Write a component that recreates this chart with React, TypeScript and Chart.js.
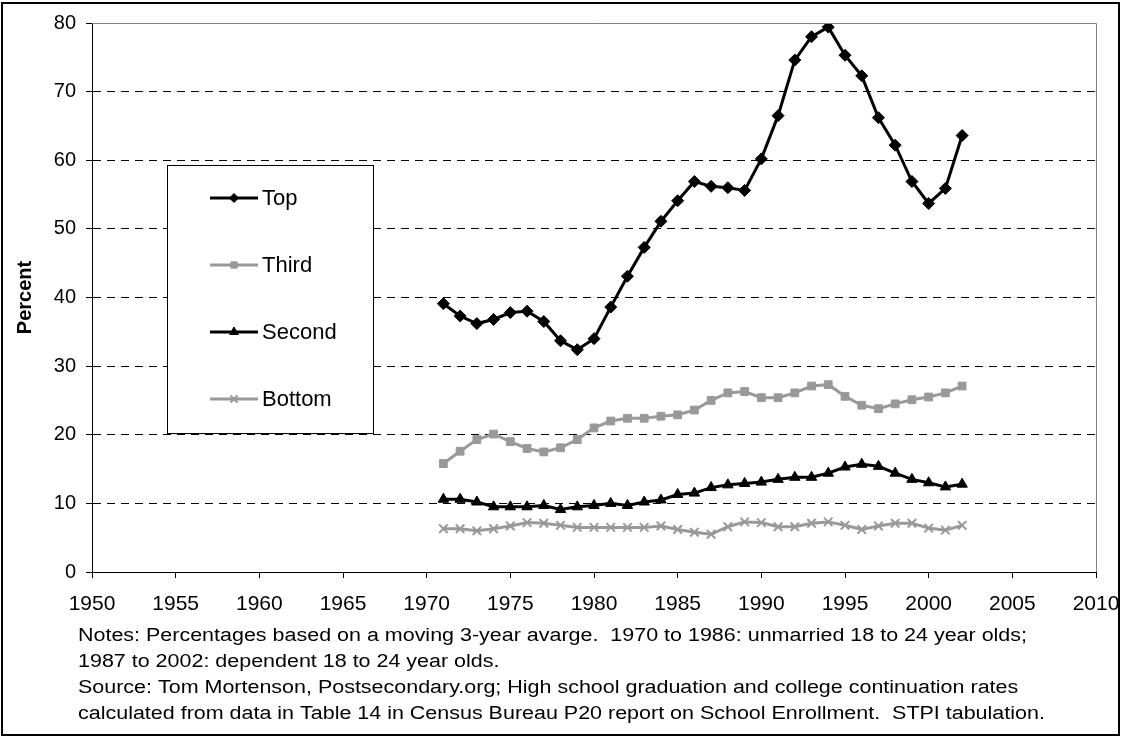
import React, { useEffect, useRef } from "react";
import { Chart, registerables } from "chart.js";
import { drawPoint } from "chart.js/helpers";

Chart.register(...registerables);

const years = [1971, 1972, 1973, 1974, 1975, 1976, 1977, 1978, 1979, 1980, 1981, 1982, 1983, 1984, 1985, 1986, 1987, 1988, 1989, 1990, 1991, 1992, 1993, 1994, 1995, 1996, 1997, 1998, 1999, 2000, 2001, 2002];
const topValues = [39.1, 37.3, 36.2, 36.8, 37.8, 38.0, 36.5, 33.7, 32.4, 34.0, 38.6, 43.1, 47.3, 51.1, 54.1, 56.9, 56.2, 56.0, 55.6, 60.2, 66.5, 74.6, 78.0, 79.4, 75.3, 72.3, 66.2, 62.2, 56.9, 53.7, 55.9, 63.6];
const thirdValues = [15.8, 17.6, 19.3, 20.1, 19.0, 18.0, 17.5, 18.1, 19.3, 21.0, 22.0, 22.4, 22.4, 22.7, 22.9, 23.6, 25.0, 26.1, 26.3, 25.4, 25.4, 26.1, 27.1, 27.3, 25.6, 24.3, 23.8, 24.5, 25.1, 25.5, 26.1, 27.1];
const secondValues = [10.6, 10.6, 10.2, 9.5, 9.5, 9.5, 9.7, 9.1, 9.5, 9.7, 10.0, 9.7, 10.2, 10.5, 11.3, 11.5, 12.3, 12.7, 12.9, 13.1, 13.5, 13.8, 13.8, 14.4, 15.3, 15.7, 15.4, 14.4, 13.5, 13.0, 12.4, 12.8];
const bottomValues = [6.3, 6.3, 6.0, 6.3, 6.7, 7.2, 7.1, 6.8, 6.5, 6.5, 6.5, 6.5, 6.5, 6.7, 6.2, 5.8, 5.5, 6.6, 7.3, 7.2, 6.6, 6.6, 7.1, 7.3, 6.8, 6.2, 6.7, 7.1, 7.1, 6.4, 6.1, 6.8];
const seriesNames = ["Top", "Third", "Second", "Bottom"];
const notes = [
  "Notes: Percentages based on a moving 3-year avarge.  1970 to 1986: unmarried 18 to 24 year olds;",
  "1987 to 2002: dependent 18 to 24 year olds.",
  "Source: Tom Mortenson, Postsecondary.org; High school graduation and college continuation rates",
  "calculated from data in Table 14 in Census Bureau P20 report on School Enrollment.  STPI tabulation.",
];

const BLACK = "#000000";
const GRAY = "#999999";
const FONT = "'Liberation Sans', Arial, sans-serif";

const pts = (vals: number[]) => years.map((y, i) => ({ x: y, y: vals[i] }));

const decorPlugin = {
  id: "decor",
  afterDraw(chart: any) {
    const ctx = chart.ctx as CanvasRenderingContext2D;
    const { top, right, bottom, left } = chart.chartArea;
    ctx.save();
    // gray top/right border of plot area
    ctx.strokeStyle = "#808080";
    ctx.lineWidth = 1;
    ctx.beginPath();
    ctx.moveTo(left, top + 0.5);
    ctx.lineTo(right + 0.5, top + 0.5);
    ctx.lineTo(right + 0.5, bottom);
    ctx.stroke();

    // legend box
    const lx = 167, ly = 165, lw = 206, lh = 268;
    ctx.fillStyle = "#ffffff";
    ctx.fillRect(lx, ly, lw, lh);
    ctx.strokeStyle = BLACK;
    ctx.lineWidth = 1;
    ctx.strokeRect(lx + 0.5, ly + 0.5, lw, lh);
    const itemY = [198, 265, 332, 399];
    chart.data.datasets.forEach((ds: any, i: number) => {
      const y = itemY[i];
      ctx.strokeStyle = ds.borderColor;
      ctx.lineWidth = 3;
      ctx.beginPath();
      ctx.moveTo(210, y);
      ctx.lineTo(258, y);
      ctx.stroke();
      ctx.fillStyle = ds.pointBackgroundColor;
      ctx.strokeStyle = ds.pointBorderColor;
      ctx.lineWidth = ds.pointBorderWidth;
      drawPoint(ctx, { pointStyle: ds.pointStyle, rotation: 0, radius: ds.legendRadius, borderWidth: ds.pointBorderWidth }, 234, y);
      ctx.fillStyle = BLACK;
      ctx.font = `22px ${FONT}`;
      ctx.textAlign = "left";
      ctx.textBaseline = "middle";
      ctx.fillText(ds.label, 262, y + 1);
    });

    // notes
    ctx.font = `18px ${FONT}`;
    ctx.fillStyle = BLACK;
    ctx.textAlign = "left";
    ctx.textBaseline = "middle";
    const w0 = ctx.measureText(notes[0]).width;
    const sx = 949 / w0;
    const noteY = [636, 662, 688, 714];
    notes.forEach((t, i) => {
      ctx.save();
      ctx.translate(78, noteY[i]);
      ctx.scale(sx, 1);
      ctx.fillText(t, 0, 0);
      ctx.restore();
    });

    // outer border
    ctx.strokeStyle = BLACK;
    ctx.lineWidth = 2;
    ctx.strokeRect(2, 3, 1117, 732);
    ctx.restore();
  },
};

export default function App() {
  const ref = useRef<HTMLCanvasElement | null>(null);
  useEffect(() => {
    document.body.style.margin = "0";
    const canvas = ref.current!;
    const chart = new Chart(canvas, {
      type: "line",
      data: {
        datasets: [
          {
            label: seriesNames[0], data: pts(topValues), borderColor: BLACK, backgroundColor: BLACK,
            pointBackgroundColor: BLACK, pointBorderColor: BLACK, pointBorderWidth: 1,
            pointStyle: "rectRot", pointRadius: 6, borderWidth: 3, legendRadius: 4.5,
          } as any,
          {
            label: seriesNames[1], data: pts(thirdValues), borderColor: GRAY, backgroundColor: GRAY,
            pointBackgroundColor: GRAY, pointBorderColor: GRAY, pointBorderWidth: 1,
            pointStyle: "rect", pointRadius: 5.5, borderWidth: 3, legendRadius: 4.5,
          } as any,
          {
            label: seriesNames[2], data: pts(secondValues), borderColor: BLACK, backgroundColor: BLACK,
            pointBackgroundColor: BLACK, pointBorderColor: BLACK, pointBorderWidth: 1,
            pointStyle: "triangle", pointRadius: 6, borderWidth: 3, legendRadius: 5,
          } as any,
          {
            label: seriesNames[3], data: pts(bottomValues), borderColor: GRAY, backgroundColor: GRAY,
            pointBackgroundColor: GRAY, pointBorderColor: GRAY, pointBorderWidth: 2,
            pointStyle: "crossRot", pointRadius: 6, borderWidth: 3, legendRadius: 5,
          } as any,
        ],
      },
      options: {
        responsive: false,
        animation: false,
        devicePixelRatio: 1,
        layout: { padding: { top: 23, right: 29, left: 0, bottom: 0 } },
        plugins: { legend: { display: false }, tooltip: { enabled: false } },
        elements: { line: { tension: 0 } },
        scales: {
          x: {
            type: "linear",
            min: 1950,
            max: 2010,
            afterFit: (s: any) => { s.height = 165; s.paddingRight = 0; s.paddingLeft = 0; },
            ticks: {
              stepSize: 5,
              color: BLACK,
              font: { family: FONT, size: 21 },
              padding: 14,
              callback: (v: any) => String(v),
            },
            grid: { drawOnChartArea: false, color: BLACK, tickLength: 6 },
            border: { color: BLACK, width: 1 },
          },
          y: {
            min: 0,
            max: 80,
            afterFit: (s: any) => { s.width = 92; s.paddingTop = 0; s.paddingBottom = 0; },
            ticks: {
              stepSize: 10,
              color: BLACK,
              font: { family: FONT, size: 20 },
              padding: 10,
            },
            grid: {
              color: (c: any) => (c.tick && (c.tick.value === 0 || c.tick.value === 80) ? "rgba(0,0,0,0)" : BLACK),
              tickColor: BLACK,
              tickLength: 6,
              tickBorderDash: [1, 0],
            },
            border: { color: BLACK, width: 1, dash: [8, 6] },
            title: {
              display: true,
              text: "Percent",
              color: BLACK,
              font: { family: FONT, size: 20, weight: "bold" },
              padding: { top: 13, bottom: 0 },
            },
          },
        },
      } as any,
      plugins: [decorPlugin],
    });
    return () => chart.destroy();
  }, []);
  return <canvas ref={ref} width={1125} height={737} style={{ display: "block" }} />;
}
